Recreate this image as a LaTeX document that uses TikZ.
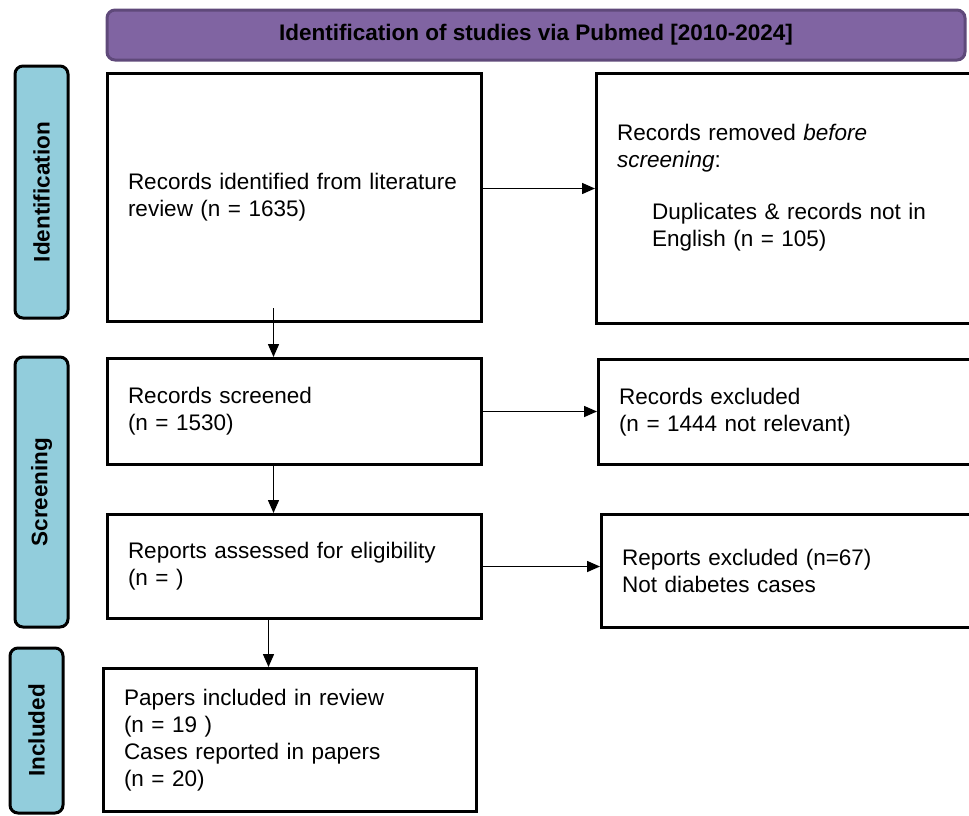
\documentclass[tikz,border=0pt]{standalone}
\usepackage{fontspec}
\setmainfont{Liberation Sans}
\usepackage{xcolor}
\usetikzlibrary{calc,arrows.meta}

\definecolor{headpurple}{HTML}{8064A2}
\definecolor{headedge}{HTML}{5F497A}
\definecolor{phaseblue}{HTML}{92CDDC}

\tikzset{
  phase/.style={draw=black, line width=3pt, rounded corners=8pt, fill=phaseblue,
    rotate=90, font=\fontsize{22.5}{27}\selectfont\bfseries, inner sep=0pt},
  flowbox/.style={draw=black, line width=3pt, anchor=north west, align=left,
    inner xsep=20.5pt, inner ysep=0pt, font=\fontsize{22.5}{27}\selectfont},
  flowarrow/.style={line width=1.5pt, -{Triangle[length=13pt,width=11pt]}}
}

\begin{document}
\begin{tikzpicture}[x=1pt,y=-1pt]
\useasboundingbox (0,0) rectangle (969,815);

% =====================
% Header bar
% =====================
\node[draw=headedge, line width=3pt, rounded corners=8pt, fill=headpurple,
  minimum width=858pt, minimum height=50pt, inner sep=0pt,
  font=\fontsize{22.5}{27}\selectfont\bfseries] (header) at (536,35)
  {Identification of studies via Pubmed [2010-2024]};

% =====================
% Phase labels (left column)
% =====================
\node[phase, minimum width=252pt, minimum height=53pt] (identification) at (41.5,192) {Identification};
\node[phase, minimum width=270pt, minimum height=53pt] (screening) at (41.5,492) {Screening};
\node[phase, minimum width=165pt, minimum height=53pt] (included) at (36.5,730.5) {Included};

% =====================
% Main column
% =====================
\node[flowbox, text width=333pt, minimum height=248pt] (identified) at (106,72)
  {Records identified from literature\\review (n = 1635)};
\node[flowbox, text width=333pt, minimum height=106pt] (screened) at (106,357)
  {Records screened\\(n = 1530)};
\node[flowbox, text width=333pt, minimum height=104pt] (assessed) at (106,513)
  {Reports assessed for eligibility\\(n = )};
\node[flowbox, text width=332pt, minimum height=143pt] (papers) at (102,667)
  {Papers included in review\\(n = 19 )\\Cases reported in papers\\(n = 20)};

% =====================
% Side column (runs off the right edge)
% =====================
\node[flowbox, text width=337pt, minimum height=250pt] (removed) at (595,72)
  {Records removed \textit{before}\\\textit{screening}:\\[25pt]
   \hspace*{35pt}Duplicates \& records not in\\\hspace*{35pt}English (n = 105)\\\mbox{}};
\node[flowbox, text width=337pt, minimum height=105pt] (excluded) at (597,358)
  {Records excluded\\(n = 1444 not relevant)};
\node[flowbox, text width=337pt, minimum height=113pt] (reportsout) at (600,513)
  {Reports excluded (n=67)\\Not diabetes cases};

% =====================
% Connectors
% =====================
\draw[flowarrow] ([yshift=9pt]identified.east) -- ([yshift=9pt]identified.east -| removed.west);
\draw[flowarrow] (screened.east) -- (screened.east -| excluded.west);
\draw[flowarrow] (assessed.east) -- (assessed.east -| reportsout.west);

\draw[flowarrow] ([xshift=-21pt,yshift=15pt]identified.south) -- ([xshift=-21pt]screened.north);
\draw[flowarrow] ([xshift=-21pt]screened.south) -- ([xshift=-21pt]assessed.north);
\draw[flowarrow] ([xshift=-26pt]assessed.south) -- ([xshift=-21.5pt]papers.north);
\end{tikzpicture}
\end{document}
